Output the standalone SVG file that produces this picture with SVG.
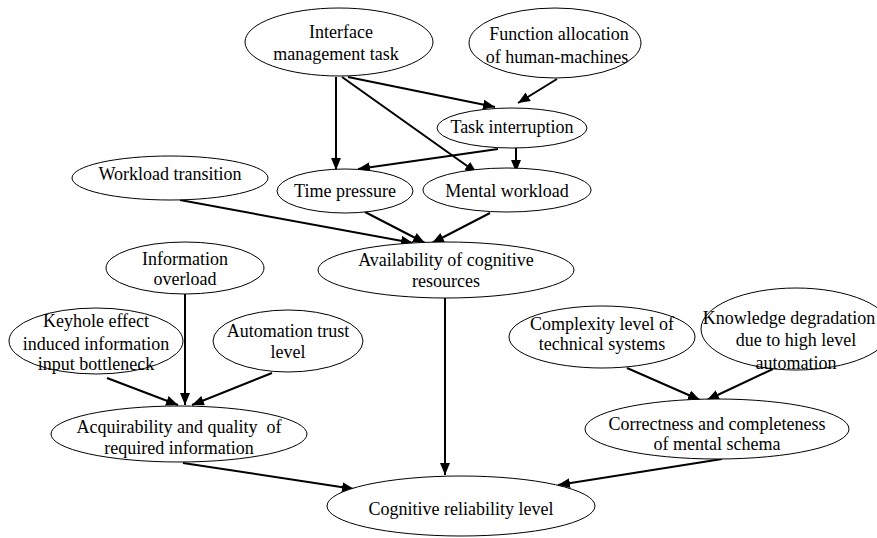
<svg xmlns="http://www.w3.org/2000/svg" width="877" height="538" viewBox="0 0 877 538">
<style>
  .node ellipse { fill: #ffffff; stroke: #000000; stroke-width: 1; }
  .node text { font-family: 'Liberation Serif', 'DejaVu Serif', serif; font-size: 18px; fill: #000000; text-anchor: middle; }
  .edge { stroke: #000000; stroke-width: 2; fill: none; marker-end: url(#arrow); }
</style>
<defs>
  <marker id="arrow" markerUnits="userSpaceOnUse" markerWidth="13" markerHeight="11" refX="12" refY="5" orient="auto">
    <path d="M0,0 L12,5 L0,10 Z" fill="#000000"/>
  </marker>
</defs>
<rect x="0" y="0" width="877" height="538" fill="#ffffff"/>

<g id="connectors">
  <line class="edge" x1="336" y1="77" x2="336" y2="170"/>
  <line class="edge" x1="348" y1="77" x2="495" y2="107"/>
  <line class="edge" x1="342" y1="77" x2="477" y2="173"/>
  <line class="edge" x1="557" y1="79" x2="518" y2="103"/>
  <line class="edge" x1="498" y1="149" x2="358" y2="169"/>
  <line class="edge" x1="516" y1="148" x2="516" y2="172"/>
  <line class="edge" x1="180" y1="200" x2="413" y2="243"/>
  <line class="edge" x1="365" y1="212" x2="425" y2="243"/>
  <line class="edge" x1="490" y1="213" x2="432" y2="243"/>
  <line class="edge" x1="445" y1="297" x2="445" y2="475"/>
  <line class="edge" x1="185" y1="294" x2="185" y2="405"/>
  <line class="edge" x1="107" y1="378" x2="178" y2="405"/>
  <line class="edge" x1="272" y1="373" x2="192" y2="405"/>
  <line class="edge" x1="627" y1="368" x2="700" y2="400"/>
  <line class="edge" x1="773" y1="369" x2="707" y2="400"/>
  <line class="edge" x1="183" y1="463" x2="354" y2="489"/>
  <line class="edge" x1="722" y1="459" x2="558" y2="485"/>
</g>

<g id="interface-management-task" class="node">
  <ellipse cx="339" cy="42" rx="94" ry="34"/>
  <text x="341" y="38">Interface</text>
  <text x="336" y="60">management task</text>
</g>
<g id="function-allocation" class="node">
  <ellipse cx="555" cy="43" rx="86" ry="35"/>
  <text x="559" y="40">Function allocation</text>
  <text x="557" y="63">of human-machines</text>
</g>
<g id="task-interruption" class="node">
  <ellipse cx="512" cy="128" rx="75" ry="20"/>
  <text x="512" y="133">Task interruption</text>
</g>
<g id="workload-transition" class="node">
  <ellipse cx="170" cy="178" rx="98" ry="22"/>
  <text x="170" y="180">Workload transition</text>
</g>
<g id="time-pressure" class="node">
  <ellipse cx="345" cy="191" rx="68" ry="22"/>
  <text x="345" y="197">Time pressure</text>
</g>
<g id="mental-workload" class="node">
  <ellipse cx="507" cy="190" rx="84" ry="22"/>
  <text x="507" y="197">Mental workload</text>
</g>
<g id="availability" class="node">
  <ellipse cx="446" cy="270" rx="128" ry="28"/>
  <text x="446" y="266">Availability of cognitive</text>
  <text x="446" y="287">resources</text>
</g>
<g id="information-overload" class="node">
  <ellipse cx="185" cy="268" rx="79" ry="26"/>
  <text x="185" y="265">Information</text>
  <text x="185" y="285">overload</text>
</g>
<g id="keyhole-effect" class="node">
  <ellipse cx="96" cy="341" rx="87" ry="33"/>
  <text x="96" y="327">Keyhole effect</text>
  <text x="96" y="350">induced information</text>
  <text x="96" y="370">input bottleneck</text>
</g>
<g id="automation-trust" class="node">
  <ellipse cx="288" cy="341" rx="75" ry="31"/>
  <text x="288" y="337">Automation trust</text>
  <text x="288" y="358">level</text>
</g>
<g id="complexity" class="node">
  <ellipse cx="602" cy="337" rx="93" ry="31"/>
  <text x="602" y="330">Complexity level of</text>
  <text x="602" y="350">technical systems</text>
</g>
<g id="knowledge-degradation" class="node">
  <ellipse cx="796" cy="329" rx="95" ry="41"/>
  <text x="789" y="324">Knowledge degradation</text>
  <text x="796" y="346">due to high level</text>
  <text x="796" y="369">automation</text>
</g>
<g id="acquirability" class="node">
  <ellipse cx="179" cy="434" rx="128" ry="28"/>
  <text x="179" y="433" xml:space="preserve">Acquirability and quality  of</text>
  <text x="179" y="454">required information</text>
</g>
<g id="correctness" class="node">
  <ellipse cx="717" cy="429" rx="132" ry="30"/>
  <text x="717" y="430">Correctness and completeness</text>
  <text x="717" y="450">of mental schema</text>
</g>
<g id="cognitive-reliability" class="node">
  <ellipse cx="461" cy="506" rx="134" ry="30"/>
  <text x="461" y="515">Cognitive reliability level</text>
</g>
</svg>
